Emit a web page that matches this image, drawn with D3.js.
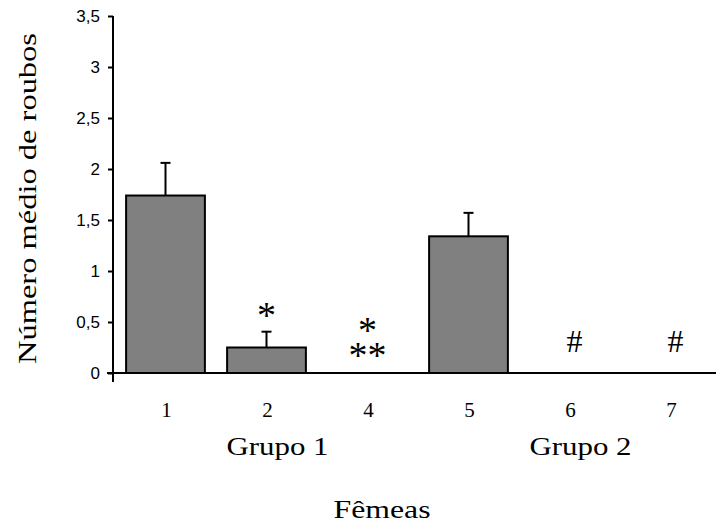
<!DOCTYPE html>
<html>

<head>
  <meta charset="utf-8">
  <title>Número médio de roubos</title>
  <style>
    body { margin: 0; background: #fff; }
    .bar { fill: #808080; stroke: #000; stroke-width: 2px; }
    .err { stroke: #000; stroke-width: 2px; }
    .tick text { font-family: "Liberation Sans", Arial, sans-serif; font-size: 17px; fill: #000; }
    .serif { font-family: "Liberation Serif", "Times New Roman", serif; fill: #000; }
  </style>
</head>

<body>
  <svg width="716" height="523"></svg>

  <script src="https://d3js.org/d3.v7.min.js"></script>
  <script>
    // Dados
    var femeas = ["1", "2", "4", "5", "6", "7"];
    var medias = [1.74, 0.25, 0, 1.34, 0, 0];
    var erros = [0.32, 0.155, 0, 0.23, 0, 0];
    var yTicks = [0, 0.5, 1, 1.5, 2, 2.5, 3, 3.5];
    var grupos = ["Grupo 1", "Grupo 2"];
    var grupoCentro = [1, 4]; // índice da fêmea sob a qual o grupo fica
    var marcas = [
      { femea: "2", linhas: ["*"], valor: 0.61 },
      { femea: "4", linhas: ["*", "**"], valor: 0.46 },
      { femea: "6", linhas: ["#"], valor: 0.31 },
      { femea: "7", linhas: ["#"], valor: 0.31 }
    ];

    var svg = d3.select("svg");

    var x = d3.scaleBand()
      .domain(femeas)
      .range([115, 115 + 6 * 101])
      .paddingInner(0.22)
      .paddingOuter(0.11);

    var y = d3.scaleLinear()
      .domain([0, 3.5])
      .range([373, 16]);

    // barras
    svg.selectAll(".bar")
      .data(femeas)
      .enter().append("rect")
      .attr("class", "bar")
      .attr("x", function (d) { return x(d); })
      .attr("width", x.bandwidth())
      .attr("y", function (d, i) { return y(medias[i]); })
      .attr("height", function (d, i) { return y(0) - y(medias[i]); })
      .style("display", function (d, i) { return medias[i] > 0 ? null : "none"; });

    // barras de erro
    var eb = svg.selectAll(".eb")
      .data(femeas.filter(function (d, i) { return erros[i] > 0; }))
      .enter().append("g");
    eb.append("line").attr("class", "err")
      .attr("x1", function (d) { return x(d) + x.bandwidth() / 2; })
      .attr("x2", function (d) { return x(d) + x.bandwidth() / 2; })
      .attr("y1", function (d) { var i = femeas.indexOf(d); return y(medias[i]); })
      .attr("y2", function (d) { var i = femeas.indexOf(d); return y(medias[i] + erros[i]); });
    eb.append("line").attr("class", "err")
      .attr("x1", function (d) { return x(d) + x.bandwidth() / 2 - 5; })
      .attr("x2", function (d) { return x(d) + x.bandwidth() / 2 + 5; })
      .attr("y1", function (d) { var i = femeas.indexOf(d); return y(medias[i] + erros[i]); })
      .attr("y2", function (d) { var i = femeas.indexOf(d); return y(medias[i] + erros[i]); });

    // eixo y
    var yAxis = svg.append("g")
      .attr("transform", "translate(113,0)")
      .call(d3.axisLeft(y).tickValues(yTicks).tickSize(5).tickPadding(8)
        .tickFormat(function (d) { return String(d).replace(".", ","); }));
    yAxis.select(".domain").remove();
    yAxis.selectAll("line").attr("stroke", "#000").attr("stroke-width", 2);

    svg.append("line")
      .attr("x1", 113).attr("x2", 113)
      .attr("y1", y(3.5)).attr("y2", y(0) + 9)
      .attr("stroke", "#000").attr("stroke-width", 2);

    // eixo x
    svg.append("line")
      .attr("x1", 107).attr("x2", 716)
      .attr("y1", y(0)).attr("y2", y(0))
      .attr("stroke", "#000").attr("stroke-width", 2);

    svg.selectAll(".cat")
      .data(femeas)
      .enter().append("text")
      .attr("class", "serif")
      .attr("x", function (d) { return x(d) + x.bandwidth() / 2 + 1; })
      .attr("y", 417)
      .attr("text-anchor", "middle")
      .style("font-size", "21px")
      .text(function (d) { return d; });

    svg.selectAll(".grupo")
      .data(grupos)
      .enter().append("text")
      .attr("class", "serif")
      .attr("x", function (d, i) { return x(femeas[grupoCentro[i]]) + x.bandwidth() / 2 + 11; })
      .attr("y", 455)
      .attr("text-anchor", "middle")
      .attr("textLength", 102)
      .attr("lengthAdjust", "spacingAndGlyphs")
      .style("font-size", "25px")
      .text(function (d) { return d; });

    svg.append("text")
      .attr("class", "serif")
      .attr("x", 382).attr("y", 518)
      .attr("text-anchor", "middle")
      .attr("textLength", 97)
      .attr("lengthAdjust", "spacingAndGlyphs")
      .style("font-size", "26px")
      .text("Fêmeas");

    svg.append("text")
      .attr("class", "serif")
      .attr("transform", "translate(36," + ((y(0) + y(3.5)) / 2 + 4) + ") rotate(-90)")
      .attr("text-anchor", "middle")
      .attr("textLength", 331)
      .attr("lengthAdjust", "spacingAndGlyphs")
      .style("font-size", "26px")
      .text("Número médio de roubos");

    // marcas de significância (cada marca é um texto, com uma ou duas linhas)
    var marca = svg.selectAll(".marca")
      .data(marcas)
      .enter().append("text")
      .attr("class", "serif")
      .attr("text-anchor", "middle")
      .style("font-size", function (d) { return d.linhas[0] === "#" ? "32px" : "38px"; });

    marca.selectAll("tspan")
      .data(function (d) {
        return d.linhas.map(function (t, k) { return { d: d, t: t, k: k }; });
      })
      .enter().append("tspan")
      .attr("x", function (e) { return x(e.d.femea) + x.bandwidth() / 2 + (e.t === "#" ? 5 : 0); })
      .attr("y", function (e) { return y(e.d.valor) + (e.t === "#" ? 11 : 17) + e.k * 25; })
      .text(function (e) { return e.t; });
  </script>
</body>

</html>
